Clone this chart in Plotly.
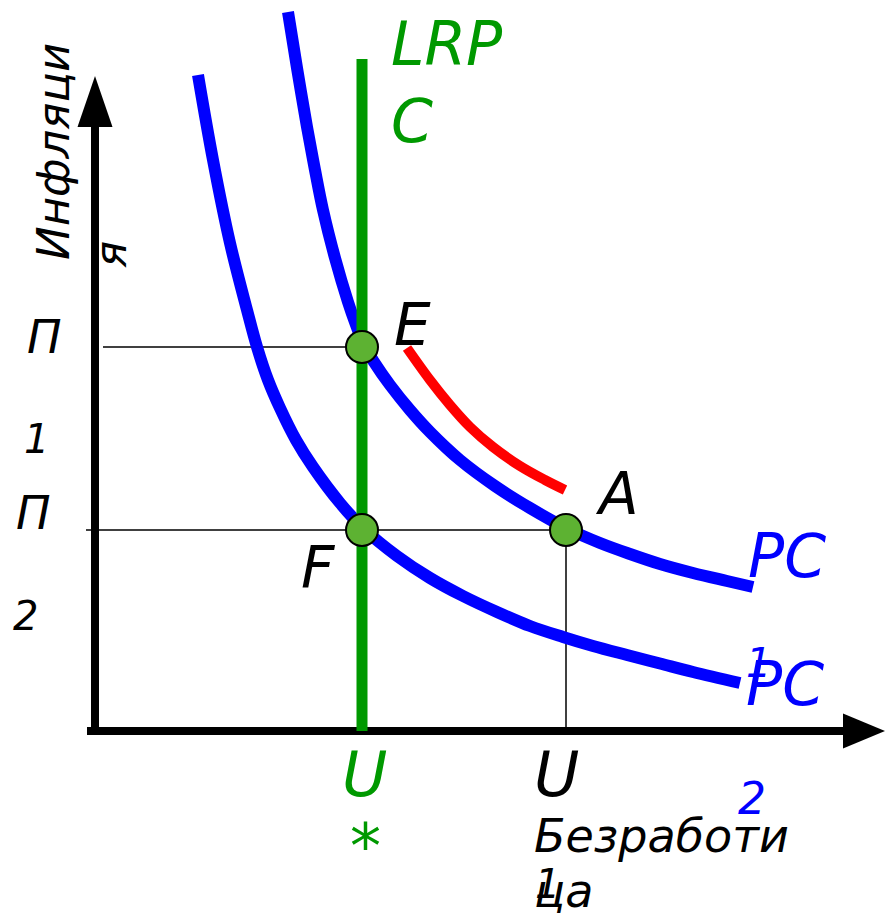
import plotly.graph_objects as go

# ---------------- data (unemployment on x, inflation on y; arbitrary units) ----------------
pc1_u = [19.3, 20.2, 21.2, 22.0, 22.8, 24.0, 25.3, 26.1, 26.9, 27.9, 29.5, 31.5, 33.5, 36.5,
         40.0, 43.5, 47.1, 50.5, 53.5, 56.5, 59.8, 63.2, 65.8]
pc1_pi = [71.9, 66.3, 60.4, 56.1, 52.1, 47.3, 42.9, 40.6, 38.6, 36.9, 34.6, 32.1, 29.9, 27.1,
          24.5, 22.3, 20.3, 18.8, 17.7, 16.7, 15.8, 15.0, 14.4]

pc2_u = [10.3, 11.8, 13.5, 15.2, 16.2, 17.3, 18.5, 20.1, 21.8, 24.5, 26.8, 30.2, 33.5, 36.8,
         40.2, 43.5, 46.8, 49.8, 53.2, 56.5, 59.8, 64.5]
pc2_pi = [65.6, 57.1, 48.8, 42.1, 38.4, 35.1, 32.3, 29.1, 26.4, 22.8, 20.3, 17.5, 15.3, 13.5,
          11.9, 10.5, 9.4, 8.5, 7.6, 6.75, 5.9, 4.8]

red_u = [31.2, 33.5, 35.5, 37.5, 39.8, 42.5, 45.0, 47.0]
red_pi = [38.3, 35.1, 32.6, 30.4, 28.4, 26.5, 25.1, 24.1]

u_star = 26.7      # natural rate U*
u_1 = 47.1         # U1
pi_1 = 38.4        # П1
pi_2 = 20.1        # П2
lrpc_top = 67.2    # top of LRPC line

point_names = ["E", "F", "A"]
point_u = [u_star, u_star, u_1]
point_pi = [pi_1, pi_2, pi_2]

# axis extents (data units)
x_axis = [-0.8, 74.8]      # x-axis line start / arrow base
x_tip = 79.0
y_axis = [-0.4, 60.4]      # y-axis line start / arrow base
y_tip = 65.5

# ---------------- layout constants ----------------
W, H = 886, 913
OX, OY = 95, 731           # pixel position of origin
SC = 10.0                  # pixels per unit
x_range = [(0 - OX) / SC, (W - OX) / SC]
y_range = [(OY - H) / SC, OY / SC]

BLUE = "#0000ff"
GREEN = "#009900"
RED = "#ff0000"
DOT = "#5db232"

fig = go.Figure()

# guide lines
fig.add_trace(go.Scatter(x=[0.8, u_star], y=[pi_1, pi_1], mode="lines",
                         line=dict(color="black", width=1.5), hoverinfo="skip"))
fig.add_trace(go.Scatter(x=[-0.9, u_1], y=[pi_2, pi_2], mode="lines",
                         line=dict(color="black", width=1.5), hoverinfo="skip"))
fig.add_trace(go.Scatter(x=[u_1, u_1], y=[0, pi_2], mode="lines",
                         line=dict(color="black", width=1.5), hoverinfo="skip"))

# axes with arrowheads
fig.add_trace(go.Scatter(x=[x_axis[0], x_axis[1]], y=[0, 0], mode="lines",
                         line=dict(color="black", width=8), hoverinfo="skip"))
fig.add_trace(go.Scatter(x=[0, 0], y=[y_axis[0], y_axis[1]], mode="lines",
                         line=dict(color="black", width=8), hoverinfo="skip"))
ah = 1.75
fig.add_trace(go.Scatter(x=[x_axis[1], x_tip, x_axis[1], x_axis[1]], y=[ah, 0, -ah, ah],
                         mode="lines", fill="toself", fillcolor="black",
                         line=dict(color="black", width=0), hoverinfo="skip"))
fig.add_trace(go.Scatter(x=[-ah, 0, ah, -ah], y=[y_axis[1], y_tip, y_axis[1], y_axis[1]],
                         mode="lines", fill="toself", fillcolor="black",
                         line=dict(color="black", width=0), hoverinfo="skip"))

# curves
fig.add_trace(go.Scatter(x=pc2_u, y=pc2_pi, mode="lines",
                         line=dict(color=BLUE, width=12, shape="spline", smoothing=1.0),
                         hoverinfo="skip"))
fig.add_trace(go.Scatter(x=pc1_u, y=pc1_pi, mode="lines",
                         line=dict(color=BLUE, width=12, shape="spline", smoothing=1.0),
                         hoverinfo="skip"))
fig.add_trace(go.Scatter(x=red_u, y=red_pi, mode="lines",
                         line=dict(color=RED, width=10, shape="spline"),
                         hoverinfo="skip"))
fig.add_trace(go.Scatter(x=[u_star, u_star], y=[0, lrpc_top], mode="lines",
                         line=dict(color=GREEN, width=11), hoverinfo="skip"))

# points
fig.add_trace(go.Scatter(x=point_u, y=point_pi, mode="markers",
                         marker=dict(size=32, color=DOT, line=dict(color="black", width=2)),
                         hoverinfo="skip"))

# ---------------- text labels (pixel centres) ----------------
labels = [
    # text, x, y, size, color, angle
    ("Инфляци", 53, 152, 45, "black", -90),
    ("я", 111, 255, 45, "black", -90),
    ("П", 44, 337, 46, "black", 0),
    ("1", 36, 439, 40, "black", 0),
    ("П", 33, 513, 46, "black", 0),
    ("2", 25, 616, 40, "black", 0),
    ("E", 412, 325, 58, "black", 0),
    ("F", 318, 568, 58, "black", 0),
    ("A", 617, 494, 58, "black", 0),
    ("PC", 787, 556, 60, BLUE, 0),
    ("1", 758, 663, 40, BLUE, 0),
    ("PC", 785, 684, 60, BLUE, 0),
    ("2", 752, 798, 44, BLUE, 0),
    ("U", 364, 774, 62, GREEN, 0),
    ("*", 365, 846, 62, GREEN, 0),
    ("U", 556, 774, 62, "black", 0),
    ("1", 547, 884, 40, "black", 0),
]
for t, px, py, sz, col, ang in labels:
    fig.add_annotation(x=px / W, y=1 - py / H, xref="paper", yref="paper", text=t,
                       showarrow=False, xanchor="center", yanchor="middle", textangle=ang,
                       font=dict(family="DejaVu Sans", size=sz, color=col, style="italic"))

left_labels = [
    ("LRP", 389, 44, 60, GREEN),
    ("C", 389, 121, 60, GREEN),
    ("Безработи", 532, 836, 46, "black"),
    ("ца", 532, 891, 46, "black"),
]
for t, px, py, sz, col in left_labels:
    fig.add_annotation(x=px / W, y=1 - py / H, xref="paper", yref="paper", text=t,
                       showarrow=False, xanchor="left", yanchor="middle",
                       font=dict(family="DejaVu Sans", size=sz, color=col, style="italic"))

fig.update_layout(
    width=W, height=H, margin=dict(l=0, r=0, t=0, b=0),
    paper_bgcolor="white", plot_bgcolor="white", showlegend=False,
    xaxis=dict(range=x_range, visible=False, fixedrange=True),
    yaxis=dict(range=y_range, visible=False, fixedrange=True),
)

fig.write_html("out.html", config={"displayModeBar": False},
               post_script="document.body.style.margin='0px';document.body.style.overflow='hidden';")
